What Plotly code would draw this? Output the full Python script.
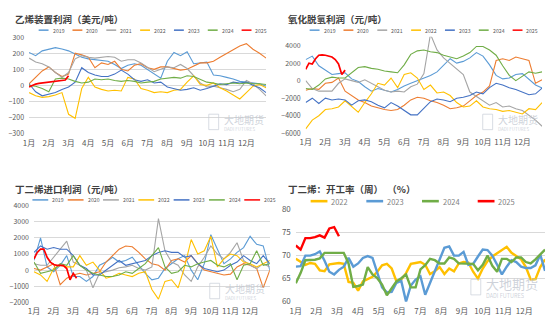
import plotly.graph_objects as go

W, H = 550, 325
FONT = "Noto Sans CJK SC"

# ---------------- data ----------------
MONTH_LABELS = ["1月", "2月", "3月", "4月", "5月", "6月", "7月", "8月", "9月", "10月", "11月", "12月"]
YEARS = ["2019", "2020", "2021", "2022", "2023", "2024", "2025"]
COLORS = {"2019": "#5B9BD5", "2020": "#ED7D31", "2021": "#A5A5A5", "2022": "#FFC000",
          "2023": "#4472C4", "2024": "#70AD47", "2025": "#FF0000"}

# Panel 1: 乙烯装置利润 (美元/吨), one reading every 1/3 month (2025: every 1/6 month)
eth_2019 = [205, 185, 215, 226, 235, 226, 215, 195, 175, 165, 160, 158, 150, 130, 105, 125, 135, 125, 100, 75, 45,
            150, 205, 185, 210, 135, 140, 145, 65, 60, 50, 40, 25, 20, 15, 10, -5]
eth_2020 = [10, 50, 90, 115, 80, 55, 70, 200, 190, 175, 110, 140, 130, 150, 100, 90, 125, 135, 110, 100, 115,
            115, 105, 95, 100, 120, 140, 140, 150, 175, 200, 220, 245, 260, 225, 200, 170]
eth_2021 = [170, 145, 135, 115, 80, 50, 80, 165, 185, 175, 170, 175, 180, 175, 150, 160, 160, 140, 110, 85, 100,
            115, 110, 130, 105, 60, 15, -10, -5, -15, -25, -40, -25, 30, 10, -25, -65]
eth_2022 = [-45, -65, -75, -70, -60, -45, -180, -205, -20, 50, -10, -25, -35, -30, -35, 50, 40, -20, -30, -45, -40,
            -45, -30, -25, 20, 60, 5, 0, 15, -15, -35, -60, -85, -45, -5, 5, -15]
eth_2023 = [10, -40, -65, -55, -45, -25, -10, 20, 110, 80, 65, 55, 55, 70, 95, 70, 35, 25, 35, 15, 20,
            -10, -20, -30, -25, -15, -30, -20, -5, 10, 5, 20, 15, 20, 0, -15, -45]
eth_2024 = [0, -5, -20, -40, 40, 45, 40, 25, 15, 20, 40, 35, 40, 30, 25, 30, 25, 15, 20, 25, 40,
            45, 50, 45, 60, 55, 35, 20, 15, 5, 10, 15, 10, 15, 10, 10, 5]
eth_2025 = [-10, 0, 8, 12, 15, 18, 22, 25, 25, 27, 30, 33, 60]

# Panel 2: 氧化脱氢利润 (元/吨)
odh_2019 = [2400, 2800, 1700, 1200, 700, 800, 900, 200, -100, -700, -1200, -900, -1100, -1300, -1000, -600, -300, 0,
            300, 600, 1000, 1800, 2500, 2000, 2200, 2600, 3200, 2800, 1800, 600, 200, 300, 700, 800, 100, -500, -850]
odh_2020 = [-1100, -900, -1000, -300, -200, 300, -1200, -1700, -2200, -2500, -2900, -3100, -3300, -3400, -3300, -2800,
            -2200, -1900, -2000, -2300, -2500, -2800, -3200, -3100, -2900, -2300, -1700, -1300, -600, 2300, 2500,
            2300, 2700, 2500, 2300, -300, 100]
odh_2021 = [0, -900, -1200, -1200, -1200, -300, 200, 0, -200, 100, -300, -700, -1100, -1300, -1200, -1300, -700, -400,
            800, 5300, 3500, 2600, 2000, 1400, 700, -1300, -1800, -2300, -2800, -2500, -3000, -2900, -3200, -3400,
            -3900, -4500, -5200]
odh_2022 = [-5500, -4500, -4000, -3300, -3200, -3000, -2300, -3000, -3600, -2500, -1500, -300, -500, 300, -800, 700,
            900, 300, -1000, -500, -1400, -1300, -1700, -2500, -3000, -2900, -2300, -3000, -3200, -3300, -3500,
            -3400, -3600, -3800, -3200, -3300, -2500]
odh_2023 = [-2500, -2000, -2600, -2000, -2200, -2100, -2200, -2800, -2300, -2200, -2400, -2800, -3100, -2500, -2900,
            -3400, -3900, -3900, -3200, -2400, -2100, -2200, -2400, -2000, -1900, -1700, -1300, -1500, -800, -300,
            -500, -800, -1000, -1300, -1600, -1500, -850]
odh_2024 = [-900, -1000, -500, 200, 400, 300, 300, 900, 1500, 1600, 1400, 1300, 1100, 1000, 900, 1800, 3000, 3400,
            3500, 3300, 3200, 2900, 2700, 2500, 2800, 3200, 3900, 3900, 3500, 2900, 1700, 600, 0, 500, 1000, 850, 1000]
odh_2025 = [1300, 2000, 1900, 2500, 2900, 2950, 2900, 2800, 2700, 2400, 1900, 700, 1200]

# Panel 3: 丁二烯进口利润 (元/吨)
imp_2019 = [600, 2000, 200, -100, 300, 900, -400, -400, -700, -400, 300, 500, 800, 500, 600, 800, 300, -200, -600,
            -500, 100, 400, 700, 900, 0, -600, 400, 2200, 1300, 400, 700, 1100, 1400, 2100, 1600, 1500, 0]
imp_2020 = [100, 0, 200, 400, -900, -500, -300, -200, -300, -200, -100, 500, 900, 1300, 1500, 1450, 1100, 700, 400,
            300, 0, 600, 700, 500, 900, 400, 0, -100, -200, -300, -250, 200, 400, 300, 100, -1100, 0]
imp_2021 = [400, 300, 300, 800, 1300, 1800, 500, 300, 0, -1100, -200, -100, 0, 150, 200, 300, 100, 0, 200, 3200,
            1200, 500, 300, -300, -700, 200, 800, 1500, 1000, 700, 1100, 1700, 600, 300, 100, 400, 200]
imp_2022 = [-100, -300, -700, 100, 300, 200, 200, 900, 300, 500, 0, -500, -400, -200, -300, -400, -200, -100, -1200,
            -1800, -700, -600, -1100, 200, 1900, 1000, 1200, 2100, 200, 700, 1000, 900, 500, 400, 200, 400, 600]
imp_2023 = [1100, 1500, 1300, 1400, 1300, 1300, 900, 300, 100, -300, -300, 0, 300, 600, 300, 400, 500, 600, 900,
            1100, 1200, 1100, 1100, 800, 900, 400, 100, 0, -100, 0, 300, 500, 900, 600, 400, 900, 400]
imp_2024 = [500, -200, -100, 0, 400, 300, 900, 300, 0, -200, -300, -400, -400, -300, -100, -200, 100, 400, 900,
            1400, 200, -200, -100, 300, 200, 400, 500, 600, 300, 200, 400, -600, 300, 400, 1200, 300, 400]
imp_2025 = [700, 1100, 1300, 1300, 800, 500, 350, 300, 300, 280, 100, -600, -200, -500]

# Panel 4: 丁二烯开工率 (周, %)
util_2022 = [69.3, 68.6, 68.0, 68.4, 68.2, 66.8, 66.6, 68.1, 68.2, 68.4, 68.2, 64.3, 64.1, 62.4, 64.4, 64.9, 65.4,
             66.5, 67.9, 68.2, 67.2, 64.4, 64.8, 66.2, 68.2, 68.4, 68.6, 68.0, 66.0, 66.6, 67.5, 66.0, 67.2, 66.6,
             68.3, 68.6, 68.5, 66.5, 65.0, 67.2, 68.8, 69.8, 70.5, 71.2, 71.9, 70.6, 69.8, 69.2, 67.5, 64.8, 64.9,
             67.5, 69.2]
util_2023 = [67.6, 67.7, 70.0, 70.0, 70.3, 70.9, 68.9, 66.5, 65.9, 66.9, 67.6, 69.5, 67.6, 68.3, 69.5, 69.9, 69.5,
             66.2, 63.1, 62.0, 62.1, 64.1, 64.5, 60.0, 63.5, 64.8, 65.5, 61.5, 64.0, 66.5, 69.0, 71.7, 72.0, 70.0,
             70.0, 70.8, 68.0, 68.2, 69.8, 71.3, 71.2, 70.0, 68.0, 65.9, 67.6, 69.0, 68.6, 67.6, 67.3, 67.3, 67.9,
             70.2, 66.7]
util_2024 = [64.0, 66.2, 69.0, 69.0, 69.1, 69.4, 70.6, 70.6, 70.6, 70.6, 70.6, 68.3, 63.2, 63.4, 63.7, 67.5, 65.9,
             65.1, 63.7, 61.4, 63.0, 64.4, 65.1, 65.9, 63.1, 63.1, 67.0, 67.9, 69.3, 69.0, 68.3, 68.3, 69.6, 69.3,
             68.3, 68.3, 68.3, 68.2, 66.8, 68.0, 70.0, 67.8, 66.5, 69.3, 69.3, 68.6, 69.6, 69.6, 68.6, 68.3, 69.2,
             70.3, 71.3]
util_2025 = [72.2, 71.3, 73.8, 73.8, 74.0, 74.4, 73.9, 75.9, 76.2, 74.2]

# ---------------- helpers ----------------
def px_x(v):
    return v / W


def px_y(v):
    return 1 - v / H


fig = go.Figure()

P4_COLORS = {"2022": "#FFC000", "2023": "#5B9BD5", "2024": "#70AD47", "2025": "#FF0000"}

PANELS = [
    dict(ax="", title="乙烯装置利润（美元/吨）", tx=7, ty=13,
         xdom=(23.3, 263), ydom=(32.3, 132), yr=[-300, 300], yt=list(range(-300, 301, 100)), grid=True,
         series={"2019": eth_2019, "2020": eth_2020, "2021": eth_2021, "2022": eth_2022,
                 "2023": eth_2023, "2024": eth_2024, "2025": eth_2025},
         leg=dict(x0=33, dx=34.2, y=25, ln=10, lw=1.5, fs=5.2, tc="#595959"),
         wm=(205, 120)),
    dict(ax="2", title="氧化脱氢利润（元/吨）", tx=283, ty=13,
         xdom=(303, 542), ydom=(31.9, 131.7), yr=[-6000, 5000], yt=list(range(-6000, 4001, 2000)), grid=False,
         series={"2019": odh_2019, "2020": odh_2020, "2021": odh_2021, "2022": odh_2022,
                 "2023": odh_2023, "2024": odh_2024, "2025": odh_2025},
         leg=dict(x0=307, dx=34.2, y=25, ln=10, lw=1.5, fs=5.2, tc="#595959"),
         wm=(482, 120)),
    dict(ax="3", title="丁二烯进口利润（元/吨）", tx=7, ty=189,
         xdom=(28.3, 266.7), ydom=(206.7, 306.7), yr=[-2000, 4000], yt=list(range(-2000, 4001, 1000)), grid=True,
         series={"2019": imp_2019, "2020": imp_2020, "2021": imp_2021, "2022": imp_2022,
                 "2023": imp_2023, "2024": imp_2024, "2025": imp_2025},
         leg=dict(x0=26.7, dx=35.7, y=200.7, ln=16, lw=1.5, fs=5.2, tc="#595959"),
         wm=(206, 295)),
    dict(ax="4", title="丁二烯：开工率（周）  （%）", tx=283, ty=189,
         xdom=(293, 545), ydom=(210.7, 306), yr=[60, 80], yt=[60, 65, 70, 75, 80], grid=True,
         series={"2022": util_2022, "2023": util_2023, "2024": util_2024, "2025": util_2025},
         leg=dict(x0=308, dx=56.3, y=202, ln=17, lw=2.6, fs=7.5, tc="#7F7F7F"),
         wm=(470, 291)),
]

shapes = []
annotations = []

for p in PANELS:
    ax = p["ax"]
    xname = "x" + ax
    yname = "y" + ax
    weekly = ax == "4"
    for yr, vals in p["series"].items():
        if weekly:
            xs = [i * 12 / 52 for i in range(len(vals))]
            col = P4_COLORS[yr]
            width = 2.4
        else:
            step = 1 / 6 if yr == "2025" else 1 / 3
            xs = [i * step for i in range(len(vals))]
            col = COLORS[yr]
            width = 1.7 if yr == "2025" else 1.1
        fig.add_trace(go.Scatter(x=xs, y=vals, mode="lines", name=yr, xaxis=xname, yaxis=yname,
                                 line=dict(color=col, width=width), showlegend=False, hoverinfo="skip"))

    xkey = "xaxis" + ax
    ykey = "yaxis" + ax
    fig.update_layout(**{
        xkey: dict(domain=[px_x(p["xdom"][0]), px_x(p["xdom"][1])], anchor=yname, range=[0, 12],
                   tickmode="array", tickvals=list(range(12)), ticktext=MONTH_LABELS,
                   showgrid=False, zeroline=False, showline=False, ticks="", ticklabelstandoff=3,
                   tickfont=dict(family=FONT, size=8, color="#595959"), fixedrange=True),
        ykey: dict(domain=[px_y(p["ydom"][1]), px_y(p["ydom"][0])], anchor=xname, range=p["yr"],
                   tickmode="array", tickvals=p["yt"], showgrid=p["grid"], gridcolor="#D9D9D9",
                   gridwidth=0.8, zeroline=False, showline=False, ticks="", ticklabelstandoff=4,
                   tickfont=dict(family=FONT, size=8 if weekly else 7, color="#595959"), fixedrange=True),
    })

    # title
    annotations.append(dict(text="<b>" + p["title"] + "</b>", xref="paper", yref="paper",
                            x=px_x(p["tx"]), y=px_y(p["ty"]), xanchor="left", yanchor="middle",
                            showarrow=False, font=dict(family=FONT, size=9.5, color="#404040")))

    # legend (drawn as layout decoration)
    lg = p["leg"]
    names = list(p["series"].keys())
    for i, yr in enumerate(names):
        col = P4_COLORS[yr] if weekly else COLORS[yr]
        x0 = lg["x0"] + i * lg["dx"]
        shapes.append(dict(type="line", xref="paper", yref="paper",
                           x0=px_x(x0), x1=px_x(x0 + lg["ln"]), y0=px_y(lg["y"]), y1=px_y(lg["y"]),
                           line=dict(color=col, width=lg["lw"])))
        annotations.append(dict(text=yr, xref="paper", yref="paper", x=px_x(x0 + lg["ln"] + 2),
                                y=px_y(lg["y"]), xanchor="left", yanchor="middle", showarrow=False,
                                font=dict(family=FONT, size=lg["fs"], color=lg["tc"])))

    # watermark
    wx, wy = p["wm"]
    big = 13 if weekly else 10
    off_top = 4 if weekly else 2.5
    off_bot = 9 if weekly else 7
    shapes.append(dict(type="rect", xref="paper", yref="paper", x0=px_x(wx), x1=px_x(wx + 10),
                       y0=px_y(wy + 8), y1=px_y(wy - 8), line=dict(color="rgba(200,205,215,0.7)", width=1),
                       fillcolor="rgba(255,255,255,0)"))
    annotations.append(dict(text="大地期货", xref="paper", yref="paper", x=px_x(wx + 13), y=px_y(wy - off_top),
                            xanchor="left", yanchor="middle", showarrow=False,
                            font=dict(family=FONT, size=big, color="rgba(190,196,206,0.75)")))
    annotations.append(dict(text="DADI FUTURES", xref="paper", yref="paper", x=px_x(wx + 13), y=px_y(wy + off_bot),
                            xanchor="left", yanchor="middle", showarrow=False,
                            font=dict(family=FONT, size=5.5 if weekly else 4.5, color="rgba(190,196,206,0.75)")))

fig.update_layout(width=W, height=H, autosize=False, margin=dict(l=0, r=0, t=0, b=0),
                  paper_bgcolor="white", plot_bgcolor="white", shapes=shapes, annotations=annotations,
                  font=dict(family=FONT))

fig.write_html("out.html")
